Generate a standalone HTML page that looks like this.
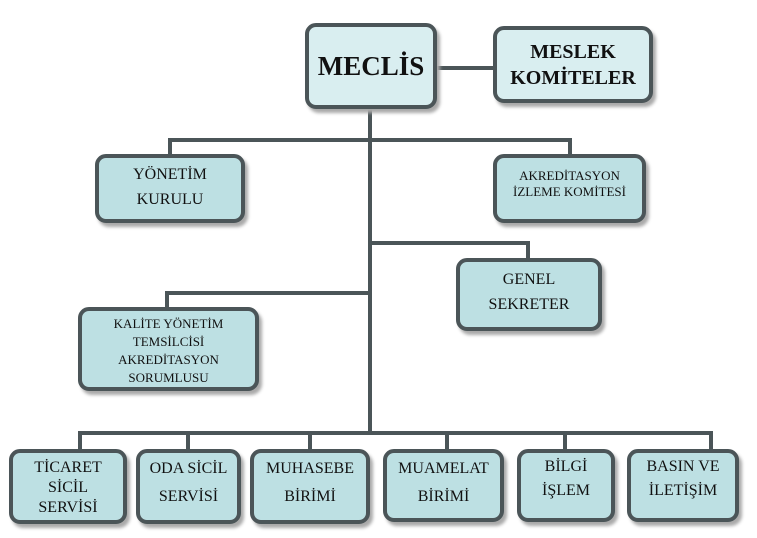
<!DOCTYPE html>
<html><head><meta charset="utf-8"><style>
body{margin:0;width:757px;height:538px;background:#fff;position:relative;overflow:hidden;font-family:"Liberation Serif",serif;color:#111}
.b{position:absolute;box-sizing:border-box;border:4px solid #4b5558;border-radius:11px;background:#bde0e3;box-shadow:3px 4px 3px #aaa;text-align:center;font-size:16px;line-height:22px}
.l{position:absolute;background:#4b5558}
</style></head><body>
<div class="l" style="left:436px;top:66px;width:58px;height:4px"></div>
<div class="l" style="left:368px;top:108px;width:4px;height:326px"></div>
<div class="l" style="left:168px;top:138px;width:404px;height:4px"></div>
<div class="l" style="left:168px;top:138px;width:4px;height:18px"></div>
<div class="l" style="left:568px;top:138px;width:4px;height:18px"></div>
<div class="l" style="left:370px;top:241px;width:160px;height:4px"></div>
<div class="l" style="left:526px;top:241px;width:4px;height:20px"></div>
<div class="l" style="left:165px;top:291px;width:205px;height:4px"></div>
<div class="l" style="left:165px;top:291px;width:4px;height:18px"></div>
<div class="l" style="left:78px;top:431px;width:635px;height:4px"></div>
<div class="l" style="left:78px;top:431px;width:4px;height:20px"></div>
<div class="l" style="left:186px;top:431px;width:4px;height:20px"></div>
<div class="l" style="left:308px;top:431px;width:4px;height:20px"></div>
<div class="l" style="left:445px;top:431px;width:4px;height:20px"></div>
<div class="l" style="left:563px;top:431px;width:4px;height:20px"></div>
<div class="l" style="left:709px;top:431px;width:4px;height:20px"></div>

<div class="b" style="left:305px;top:23px;width:132px;height:86px;background:#d9eef0;font-size:27px;font-weight:bold;line-height:78px">MECLİS</div>
<div class="b" style="left:493px;top:26px;width:160px;height:77px;background:#d9eef0;font-size:20px;font-weight:bold;line-height:26px;padding-top:9px">MESLEK<br>KOMİTELER</div>
<div class="b" style="left:95px;top:154px;width:150px;height:69px;padding-top:4px;line-height:25px">YÖNETİM<br>KURULU</div>
<div class="b" style="left:493px;top:154px;width:153px;height:69px;font-size:13px;line-height:16px;padding-top:10px">AKREDİTASYON<br>İZLEME KOMİTESİ</div>
<div class="b" style="left:456px;top:258px;width:146px;height:73px;padding-top:5px;line-height:25px">GENEL<br>SEKRETER</div>
<div class="b" style="left:78px;top:307px;width:181px;height:84px;font-size:13px;line-height:18px;padding-top:4px">KALİTE YÖNETİM<br>TEMSİLCİSİ<br>AKREDİTASYON<br>SORUMLUSU</div>

<div class="b" style="left:9px;top:449px;width:118px;height:75px;line-height:20px;padding-top:5px">TİCARET<br>SİCİL<br>SERVİSİ</div>
<div class="b" style="left:136px;top:449px;width:105px;height:75px;line-height:28px;padding-top:2px">ODA SİCİL<br>SERVİSİ</div>
<div class="b" style="left:250px;top:449px;width:120px;height:75px;line-height:28px;padding-top:2px">MUHASEBE<br>BİRİMİ</div>
<div class="b" style="left:383px;top:449px;width:121px;height:73px;line-height:28px;padding-top:2px">MUAMELAT<br>BİRİMİ</div>
<div class="b" style="left:517px;top:449px;width:98px;height:73px;line-height:24px;padding-top:2px">BİLGİ<br>İŞLEM</div>
<div class="b" style="left:627px;top:449px;width:112px;height:73px;line-height:24px;padding-top:2px">BASIN VE<br>İLETİŞİM</div>
</body></html>
